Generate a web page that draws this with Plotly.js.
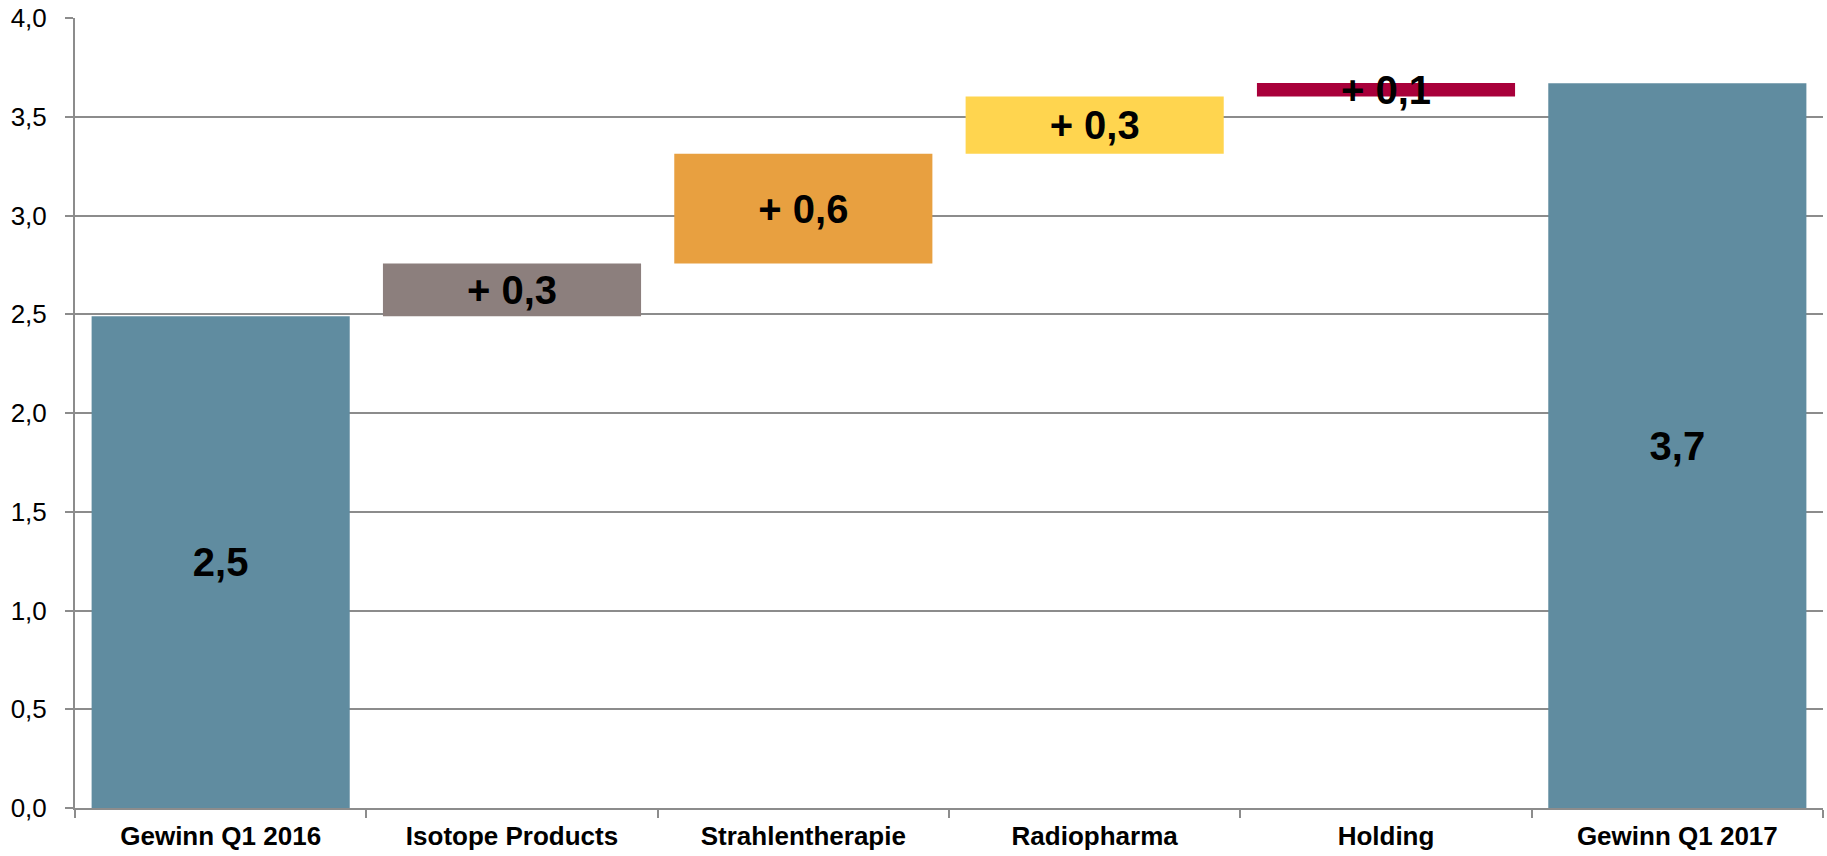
<!DOCTYPE html>
<html>
<head>
<meta charset="utf-8">
<script src="https://cdn.plot.ly/plotly-3.0.1.min.js"></script>
<style>
html,body{margin:0;padding:0;background:#fff;}
#chart{width:1827px;height:856px;}
</style>
</head>
<body>
<div id="chart"></div>
<script>
// Data
const categories = ['Gewinn Q1 2016', 'Isotope Products', 'Strahlentherapie', 'Radiopharma', 'Holding', 'Gewinn Q1 2017'];
const measures = ['absolute', 'relative', 'relative', 'relative', 'relative', 'total'];
const values = [2.49, 0.267, 0.556, 0.29, 0.068, 3.67];
const barColors = ['#608CA0', '#8C7F7D', '#E8A040', '#FFD54F', '#A8003A', '#608CA0'];
const yTickValues = [0, 0.5, 1, 1.5, 2, 2.5, 3, 3.5, 4];

// Build bases and labels from the data
const bases = [];
const heights = [];
const labels = [];
let running = 0;
for (let i = 0; i < values.length; i++) {
  const v = values[i];
  const txt = v.toFixed(1).replace('.', ',');
  if (measures[i] === 'relative') {
    bases.push(running);
    heights.push(v);
    running += v;
    labels.push('+ ' + txt);
  } else {
    bases.push(0);
    heights.push(v);
    running = v;
    labels.push(txt);
  }
}

const trace = {
  type: 'bar',
  x: categories,
  y: heights,
  base: bases,
  marker: { color: barColors, line: { width: 0 } },
  text: labels,
  textposition: 'inside',
  insidetextanchor: 'middle',
  constraintext: 'none',
  textangle: 0,
  textfont: { family: 'Arial, "Liberation Sans", sans-serif', size: 40, color: '#000', weight: 'bold' },
  hoverinfo: 'skip',
  cliponaxis: false
};

const layout = {
  width: 1827,
  height: 856,
  margin: { l: 75, r: 4, t: 18, b: 48, pad: 0 },
  paper_bgcolor: '#fff',
  plot_bgcolor: '#fff',
  separators: ',.',
  showlegend: false,
  bargap: 0.114,
  font: { family: 'Arial, "Liberation Sans", sans-serif', color: '#000' },
  xaxis: {
    type: 'category',
    showgrid: false,
    showline: true,
    linecolor: '#8C8C8C',
    linewidth: 2,
    ticks: 'outside',
    tickson: 'boundaries',
    ticklen: 8,
    tickwidth: 2,
    tickcolor: '#8C8C8C',
    tickfont: { size: 26, weight: 'bold', color: '#000' },
    ticklabelstandoff: 4,
    zeroline: false,
    fixedrange: true
  },
  yaxis: {
    range: [0, 4],
    tickvals: yTickValues,
    tickformat: '.1f',
    showgrid: true,
    gridcolor: '#8C8C8C',
    gridwidth: 2,
    showline: true,
    linecolor: '#8C8C8C',
    linewidth: 2,
    ticks: 'outside',
    ticklen: 8,
    tickwidth: 2,
    tickcolor: '#8C8C8C',
    tickfont: { size: 26, color: '#000' },
    ticklabelstandoff: 13,
    zeroline: false,
    fixedrange: true
  }
};

Plotly.newPlot('chart', [trace], layout, { displayModeBar: false, staticPlot: true });
</script>
</body>
</html>
